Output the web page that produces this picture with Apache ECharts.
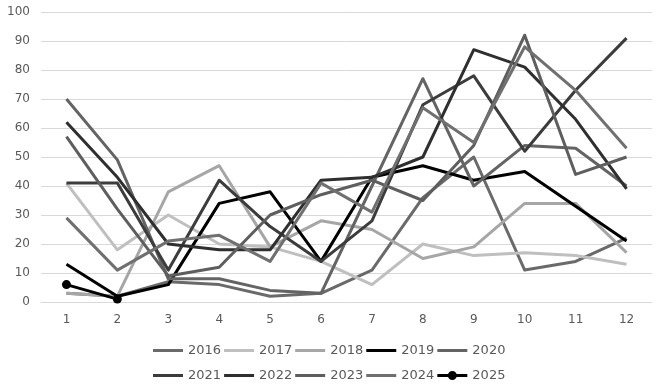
<!DOCTYPE html>
<html>
<head>
<meta charset="utf-8">
<script src="https://cdn.jsdelivr.net/npm/echarts@6/dist/echarts.min.js"></script>
<style>
html,body{margin:0;padding:0;background:#fff;}
#chart{width:661px;height:385px;}
</style>
</head>
<body>
<div id="chart"></div>
<script>
var months = ['1','2','3','4','5','6','7','8','9','10','11','12'];
var yearNames = ['2016','2017','2018','2019','2020','2021','2022','2023','2024','2025'];
var y2016 = [3, 2, 7, 6, 2, 3, 11, 36, 50, 11, 14, 22];
var y2017 = [41, 18, 30, 20, 19, 14, 6, 20, 16, 17, 16, 13];
var y2018 = [3, 2, 38, 47, 19, 28, 25, 15, 19, 34, 34, 17];
var y2019 = [13, 2, 6, 34, 38, 14, 43, 47, 42, 45, 33, 21];
var y2020 = [70, 49, 8, 8, 4, 3, 40, 77, 40, 54, 53, 40];
var y2021 = [41, 41, 11, 42, 26, 14, 28, 68, 78, 52, 73, 91];
var y2022 = [62, 43, 20, 18, 18, 42, 43, 50, 87, 81, 63, 39];
var y2023 = [57, 32, 9, 12, 30, 37, 42, 35, 54, 92, 44, 50];
var y2024 = [29, 11, 21, 23, 14, 41, 31, 67, 55, 88, 73, 53];
var y2025 = [6, 1];
var yTicks = [0, 10, 20, 30, 40, 50, 60, 70, 80, 90, 100];

var values = [y2016, y2017, y2018, y2019, y2020, y2021, y2022, y2023, y2024, y2025];
var colors = ['#6a6a6a', '#bfbfbf', '#a6a6a6', '#000000', '#646464', '#3c3c3c', '#2f2f2f', '#5e5e5e', '#707070', '#000000'];

var lineIcon = 'path://M0,0 L30,0 L30,3 L0,3 Z';
var markerIcon = 'path://M0,3 L30,3 L30,6 L0,6 Z M15,0 A4.5,4.5 0 1,1 15,9 A4.5,4.5 0 1,1 15,0 Z';

var series = yearNames.map(function (name, i) {
  var isLast = (name === '2025');
  return {
    name: name,
    type: 'line',
    data: values[i],
    symbol: isLast ? 'circle' : 'none',
    symbolSize: 9,
    showSymbol: isLast,
    lineStyle: { width: 3, color: colors[i], join: 'round' },
    itemStyle: { color: colors[i] },
    emphasis: { disabled: true },
    animation: false
  };
});

function legendItems(names) {
  return names.map(function (n) {
    return { name: n, icon: n === '2025' ? markerIcon : lineIcon };
  });
}

var legendText = { fontSize: 13, color: '#595959', fontFamily: 'DejaVu Sans' };
var chart = echarts.init(document.getElementById('chart'), null, { renderer: 'canvas' });
chart.setOption({
  backgroundColor: '#fff',
  animation: false,
  grid: { left: 41, right: 9, top: 12, bottom: 83, containLabel: false },
  xAxis: {
    type: 'category',
    data: months,
    boundaryGap: true,
    axisLine: { show: true, lineStyle: { color: '#d9d9d9', width: 1 } },
    axisTick: { show: false },
    axisLabel: { fontSize: 12, color: '#595959', fontFamily: 'DejaVu Sans', margin: 12 }
  },
  yAxis: {
    type: 'value',
    min: yTicks[0],
    max: yTicks[yTicks.length - 1],
    interval: 10,
    axisLine: { show: false },
    axisTick: { show: false },
    splitLine: { lineStyle: { color: '#d9d9d9', width: 1 } },
    axisLabel: { fontSize: 12, color: '#595959', fontFamily: 'DejaVu Sans', margin: 11 }
  },
  legend: [
    { data: legendItems(yearNames.slice(0, 5)), left: 153, top: 344, itemWidth: 30, itemHeight: 9, itemGap: 3, symbolKeepAspect: true, textStyle: legendText, padding: 0 },
    { data: legendItems(yearNames.slice(5)), left: 153, top: 369, itemWidth: 30, itemHeight: 9, itemGap: 3, symbolKeepAspect: true, textStyle: legendText, padding: 0 }
  ],
  series: series
});
</script>
</body>
</html>
